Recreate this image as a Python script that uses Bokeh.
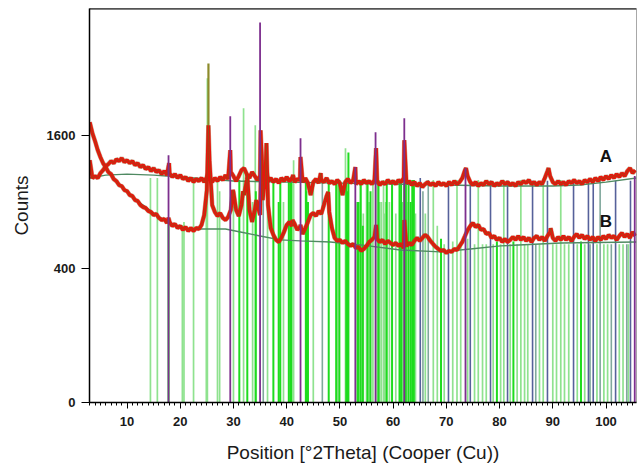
import math
from bokeh.plotting import figure
from bokeh.models import Range1d, FixedTicker, SingleIntervalTicker, Span
from bokeh.core.properties import value
from bokeh.embed import file_html
from bokeh.resources import INLINE

# ---------------- data (counts) ----------------
scan_start = 3.0
scan_step = 0.5

A_counts = [
    1315, 1128, 1148, 1128, 1178, 1209, 1251, 1273, 1305, 1283,
    1326, 1305, 1337, 1294, 1315, 1283, 1305, 1262, 1283, 1241,
    1262, 1220, 1241, 1199, 1230, 1189, 1209, 1168, 1199, 1158,
    1178, 1138, 1168, 1128, 1158, 1118, 1138, 1098, 1128, 1088,
    1118, 1098, 1128, 1088, 1138, 1118, 1088, 1128, 1098, 1138,
    1108, 1158, 1118, 1189, 1148, 1098, 1148, 1209, 1230, 1168,
    1128, 1189, 1148, 1108, 1148, 1118, 1148, 1098, 1128, 1088,
    1118, 1078, 1128, 1098, 1138, 1098, 1128, 1088, 1118, 1108,
    1088, 1128, 1078, 964, 1088, 1118, 1078, 1108, 1088, 1128,
    1078, 1098, 1068, 1108, 1078, 964, 1088, 1118, 1078, 1108,
    1068, 1098, 1068, 1108, 1078, 1098, 1068, 1108, 1098, 1059,
    1088, 1068, 1108, 1078, 1098, 1068, 1108, 1088, 1128, 1078,
    1098, 1059, 1088, 1049, 1078, 1039, 1068, 1088, 1059, 1078,
    1049, 1088, 1059, 1078, 1049, 1088, 1059, 1098, 1068, 1088,
    1128, 1209, 1148, 1088, 1059, 1088, 1049, 1078, 1059, 1098,
    1068, 1088, 1049, 1078, 1059, 1098, 1068, 1088, 1059, 1078,
    1049, 1088, 1068, 1098, 1078, 1108, 1068, 1088, 1059, 1088,
    1068, 1128, 1199, 1148, 1088, 1068, 1098, 1068, 1088, 1059,
    1098, 1078, 1108, 1078, 1098, 1068, 1108, 1088, 1118, 1088,
    1128, 1098, 1138, 1108, 1148, 1118, 1158, 1128, 1168, 1138,
    1178, 1148, 1199, 1230, 1178, 1209,
]
A_peak_pos = [17.9, 25.3, 29.4, 35.1, 36.2, 41.2, 42.6, 46.4, 52.9, 56.8, 62.1, 73.7, 89.2]
A_peak_counts = [1283, 1189, 1426, 1660, 1209, 1158, 1350, 1178, 1241, 1450, 1541, 1230, 1230]

B_counts = [
    1759, 1624, 1529, 1426, 1348, 1283, 1241, 1189, 1168, 1118,
    1098, 1059, 1049, 1011, 1001, 964, 955, 918, 909, 873,
    856, 847, 821, 813, 787, 796, 763, 746, 754, 722,
    730, 698, 714, 682, 698, 667, 690, 659, 682, 659,
    682, 674, 706, 787, 1011, 1315, 873, 813, 779, 804,
    763, 746, 771, 830, 992, 830, 779, 873, 964, 1108,
    830, 730, 830, 873, 787, 918, 1158, 873, 682, 629,
    592, 577, 607, 651, 706, 730, 698, 714, 667, 690,
    636, 682, 730, 787, 804, 779, 821, 796, 873, 955,
    813, 682, 607, 585, 592, 570, 585, 563, 549, 563,
    535, 542, 515, 528, 549, 577, 592, 614, 599, 577,
    592, 563, 585, 570, 556, 570, 549, 563, 535, 549,
    570, 556, 585, 607, 585, 607, 629, 614, 585, 563,
    542, 528, 515, 521, 501, 515, 508, 528, 521, 549,
    577, 621, 667, 698, 722, 690, 706, 667, 674, 636,
    644, 607, 621, 592, 607, 577, 599, 577, 592, 614,
    592, 621, 592, 614, 585, 607, 577, 607, 621, 592,
    614, 585, 621, 651, 607, 585, 614, 592, 621, 592,
    614, 585, 614, 636, 607, 629, 599, 621, 592, 614,
    585, 614, 592, 621, 599, 629, 607, 621, 592, 621,
    644, 614, 636, 607, 651, 621,
]
B_peak_pos = [17.8, 25.3, 29.9, 31.8, 32.6, 34.3, 35.2, 36.2, 41.1, 42.6, 47.8, 56.8, 62.1, 89.6]
B_peak_counts = [763, 1722, 1011, 1000, 1158, 918, 1315, 1506, 746, 706, 992, 706, 746, 680]

# thin observed tip of the strongest reflection (olive trace above the red band)
tip_pos = [25.3]
tip_from_counts = [1722]
tip_counts = [2575]

A_bg_pos = [3, 6, 10, 15, 20, 25, 30, 40, 50, 60, 70, 80, 90, 95, 100, 105.7]
A_bg_counts = [1128, 1158, 1168, 1158, 1138, 1118, 1098, 1088, 1078, 1068, 1059, 1049, 1049, 1059, 1088, 1128]

B_bg_pos = [3, 4, 5, 6, 7, 8, 10, 12, 14, 16, 18, 20, 22, 28.5, 31.3, 35, 38.8, 42.6,
            48.2, 53.9, 61.4, 68.9, 74.5, 80.2, 91.5, 105.7]
B_bg_counts = [1722, 1518, 1337, 1230, 1158, 1088, 992, 909, 838, 771, 722, 690, 674, 674, 651, 621, 592, 585,
               577, 556, 521, 508, 528, 549, 570, 577]

# reference sticks, one list pair per phase colour
lg_pos = [14.4, 15.7, 20.4, 20.7, 22.5, 24.9, 25.1, 27.0, 27.4, 30.0, 31.9, 33.6, 34.1, 36.4, 39.4, 41.3,
          45.0, 49.6, 51.05, 53.9, 54.4, 57.8, 58.4, 59.3, 60.5, 62.8, 64.2, 66.05, 67.55, 68.3, 69.6,
          71.2, 72.0, 72.7, 74.0, 75.3, 76.0, 76.8, 77.5, 78.8, 80.2, 80.8, 82.0, 83.3, 84.0, 84.7, 85.3,
          87.5, 88.2, 90.0, 90.7, 91.5, 92.2, 93.0, 94.6, 96.0, 98.3, 99.6, 100.3, 102.5, 103.2, 104.2,
          55.0, 55.5, 56.2, 57.0, 57.5, 58.2, 58.6]
lg_counts = [1128, 1128, 706, 730, 1088, 1088, 2353, 1108, 1000, 1000, 1939, 900, 1722, 1108, 900, 1315,
             1108, 1108, 1449, 1108, 800, 900, 800, 900, 800, 900, 800, 800, 1108, 700, 560,
             580, 1108, 580, 600, 560, 1108, 560, 560, 560, 560, 1108, 560, 560, 1108, 560, 560,
             560, 1108, 560, 560, 1108, 560, 560, 560, 560, 560, 560, 560, 560, 560, 560,
             1108, 900, 1108, 1108, 900, 1108, 900]
g_pos = [17.8, 31.1, 32.6, 34.2, 37.5, 38.5, 38.8, 40.7, 43.7, 47.9, 51.4, 53.5, 55.2, 55.75, 57.25,
         58.8, 59.8, 61.2, 61.6, 62.1, 63.6, 69.0, 79.5, 82.6, 95.3,
         40.4, 40.9, 43.6, 44.0, 49.3, 49.9, 51.2, 51.6, 53.3, 53.9, 54.3, 61.5, 62.4, 62.9, 63.3, 63.9]
g_counts = [722, 1108, 1158, 1000, 1108, 900, 1108, 1108, 1000, 1108, 1000, 900, 1108, 1000, 1108,
            1108, 1108, 1108, 900, 1108, 1108, 600, 580, 580, 580,
            1108, 1108, 1108, 900, 1108, 1108, 1108, 1400, 900, 1108, 700, 1108, 1108, 1108, 900, 1108]
t_pos = [35.6, 46.7, 65.6, 66.6, 86.8, 97.0, 98.9, 101.0, 103.9]
t_counts = [1000, 1100, 1000, 1108, 560, 560, 1108, 560, 560]
b_pos = [65.1, 70.4, 74.5, 78.3, 81.5, 86.2, 89.0, 93.9, 96.7, 97.6, 101.8, 104.6]
b_counts = [1128, 1100, 1100, 1100, 1100, 1100, 1100, 1100, 1100, 1100, 1100, 1100]
p_pos = [17.8, 29.4, 35.0, 42.6, 52.9, 56.7, 62.1, 73.6, 105.4]
p_counts = [1370, 1835, 3234, 1564, 1241, 1636, 1810, 1230, 1150]

y_tick_counts = [0, 400, 1600]
curve_labels = ["A", "B"]
curve_label_pos = [100.0, 100.0]
curve_label_counts = [1350, 730]

# ---------------- helpers ----------------
def sq(c):
    return [math.sqrt(v) for v in c]

def merged(base, peak_pos, peak_counts):
    pts = [(scan_start + i * scan_step, c) for i, c in enumerate(base)]
    pts += list(zip(peak_pos, peak_counts))
    pts.sort()
    return [q[0] for q in pts], [q[1] for q in pts]

p = figure(width=640, height=465, output_backend="svg", toolbar_location=None,
           x_range=Range1d(2.95, 105.73), y_range=Range1d(0, 58.96),
           min_border_left=89, min_border_right=4, min_border_top=8, min_border_bottom=62)
p.xgrid.visible = False
p.ygrid.visible = False
p.outline_line_color = "#a8a8a8"
p.outline_line_width = 1
p.background_fill_color = "white"

def sticks(pos, counts, color, width, base=None):
    y0 = [0] * len(pos) if base is None else sq(base)
    p.segment(x0=pos, y0=y0, x1=pos, y1=sq(counts), line_color=color, line_width=width)

sticks(lg_pos, lg_counts, "#8fe28f", 1.7)
sticks(t_pos, t_counts, "#80a89c", 1.6)
sticks(g_pos, g_counts, "#1edc1e", 2.0)
sticks(b_pos, b_counts, "#56619a", 1.6)

p.line(A_bg_pos, sq(A_bg_counts), line_color="#4f8a62", line_width=1.4)
p.line(B_bg_pos, sq(B_bg_counts), line_color="#4f8a62", line_width=1.4)

sticks(tip_pos, tip_counts, "#8c8a2a", 2.2, base=tip_from_counts)

for base, pp, pc in [(A_counts, A_peak_pos, A_peak_counts), (B_counts, B_peak_pos, B_peak_counts)]:
    xs, cs = merged(base, pp, pc)
    p.line(xs, sq(cs), line_color="#8a5a20", line_width=4.6, line_alpha=0.5)
    p.line(xs, sq(cs), line_color="#e8140c", line_width=3.6)
    p.line(xs, sq(cs), line_color="#6e6a1e", line_width=0.7, line_alpha=0.7)

sticks(p_pos, p_counts, "#7d2f8e", 1.8)

p.text(x=curve_label_pos, y=sq(curve_label_counts), text=curve_labels,
       text_font=value("Liberation Sans"), text_font_style="bold", text_font_size="17px",
       text_align="center", text_baseline="middle", text_color="#111111")

p.add_layout(Span(location=58.96, dimension="width", line_color="black", line_width=2))

# axes
xa = p.xaxis[0]
xa.ticker = SingleIntervalTicker(interval=10, num_minor_ticks=10)
xa.axis_label = "Position [°2Theta] (Cooper (Cu))"
ya = p.yaxis[0]
ya.ticker = FixedTicker(ticks=sq(y_tick_counts), minor_ticks=[])
ya.major_label_overrides = {math.sqrt(c): str(c) for c in y_tick_counts}
ya.axis_label = "Counts"
for ax in (xa, ya):
    ax.axis_line_color = "black"
    ax.axis_line_width = 1.5
    ax.major_tick_line_color = "black"
    ax.minor_tick_line_color = "black"
    ax.major_tick_in = 0
    ax.minor_tick_in = 0
    ax.major_label_text_font = "Liberation Sans"
    ax.major_label_text_font_style = "bold"
    ax.major_label_text_font_size = "13px"
    ax.major_label_text_color = "#1a1a1a"
    ax.axis_label_text_font = "Liberation Sans"
    ax.axis_label_text_font_style = "normal"
    ax.axis_label_text_font_size = "19px"
    ax.axis_label_text_color = "#1a1a1a"
xa.major_tick_out = 6
xa.minor_tick_out = 3
xa.major_label_standoff = 8
xa.axis_label_standoff = 13
ya.major_tick_out = 8
ya.major_label_standoff = 6
ya.axis_label_standoff = 12

open("out.html", "w").write(file_html(p, INLINE))
